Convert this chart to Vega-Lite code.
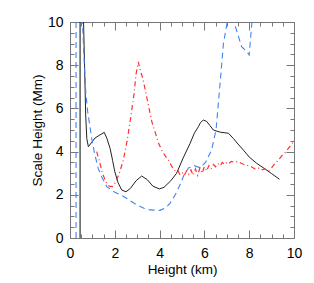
{
  "$schema": "https://vega.github.io/schema/vega-lite/v6.json",
  "autosize": "none",
  "width": 224,
  "height": 216,
  "padding": {"left": 70, "top": 22, "right": 20, "bottom": 45},
  "background": "white",
  "config": {
    "view": {"stroke": null},
    "font": "Liberation Sans",
    "axis": {
      "domainColor": "#777",
      "tickColor": "#777",
      "grid": false,
      "labelFont": "Liberation Sans",
      "labelFontSize": 14,
      "labelColor": "black",
      "titleFont": "Liberation Sans",
      "titleFontSize": 13.5,
      "titleFontWeight": "normal",
      "titleColor": "black"
    }
  },
  "datasets": {
    "black": [
      {"x": 0.6, "y": 10.2}, {"x": 0.65, "y": 8}, {"x": 0.7, "y": 5.7}, {"x": 0.75, "y": 4.6}, {"x": 0.82, "y": 4.23},
      {"x": 0.95, "y": 4.4}, {"x": 1.12, "y": 4.63}, {"x": 1.3, "y": 4.75}, {"x": 1.53, "y": 4.89}, {"x": 1.65, "y": 4.6},
      {"x": 1.79, "y": 4.15}, {"x": 1.9, "y": 3.6}, {"x": 2.0, "y": 3.07}, {"x": 2.15, "y": 2.55}, {"x": 2.31, "y": 2.22},
      {"x": 2.5, "y": 2.14}, {"x": 2.7, "y": 2.3}, {"x": 2.95, "y": 2.65}, {"x": 3.2, "y": 2.87}, {"x": 3.45, "y": 2.7},
      {"x": 3.7, "y": 2.4}, {"x": 3.99, "y": 2.27}, {"x": 4.2, "y": 2.35}, {"x": 4.5, "y": 2.65}, {"x": 4.76, "y": 3.0},
      {"x": 5.05, "y": 3.7}, {"x": 5.36, "y": 4.38}, {"x": 5.55, "y": 4.85}, {"x": 5.73, "y": 5.15}, {"x": 5.83, "y": 5.35},
      {"x": 5.95, "y": 5.46}, {"x": 6.1, "y": 5.4}, {"x": 6.25, "y": 5.2}, {"x": 6.4, "y": 5.0}, {"x": 6.7, "y": 4.9},
      {"x": 7.07, "y": 4.85}, {"x": 7.3, "y": 4.6}, {"x": 7.5, "y": 4.35}, {"x": 7.74, "y": 4.07}, {"x": 8.0, "y": 3.75},
      {"x": 8.33, "y": 3.46}, {"x": 8.7, "y": 3.2}, {"x": 9.0, "y": 2.98}, {"x": 9.35, "y": 2.72}
    ],
    "blue": [
      {"x": 0.55, "y": 10.2}, {"x": 0.62, "y": 8.5}, {"x": 0.7, "y": 6.8}, {"x": 0.79, "y": 5.85}, {"x": 0.97, "y": 4.61},
      {"x": 1.1, "y": 3.9}, {"x": 1.26, "y": 3.22}, {"x": 1.45, "y": 2.75}, {"x": 1.64, "y": 2.38}, {"x": 2.0, "y": 2.12},
      {"x": 2.38, "y": 1.93}, {"x": 2.7, "y": 1.72}, {"x": 2.98, "y": 1.53}, {"x": 3.3, "y": 1.38}, {"x": 3.57, "y": 1.3},
      {"x": 4.02, "y": 1.28}, {"x": 4.3, "y": 1.42}, {"x": 4.46, "y": 1.6}, {"x": 4.7, "y": 2.0}, {"x": 4.91, "y": 2.45},
      {"x": 5.1, "y": 2.95}, {"x": 5.3, "y": 3.25}, {"x": 5.55, "y": 3.35}, {"x": 5.8, "y": 3.25}, {"x": 6.05, "y": 3.5},
      {"x": 6.32, "y": 4.07}, {"x": 6.52, "y": 5.0}, {"x": 6.62, "y": 6.2}, {"x": 6.7, "y": 7.16}, {"x": 6.85, "y": 9.0},
      {"x": 7.02, "y": 10.0}, {"x": 7.17, "y": 10.4}, {"x": 7.32, "y": 10.0}, {"x": 7.5, "y": 9.4}, {"x": 7.66, "y": 8.86},
      {"x": 7.89, "y": 8.63}, {"x": 8.0, "y": 8.47}, {"x": 8.11, "y": 9.86}, {"x": 8.15, "y": 10.2}
    ],
    "red": [
      {"x": 1.19, "y": 4.0}, {"x": 1.3, "y": 3.6}, {"x": 1.45, "y": 3.0}, {"x": 1.6, "y": 2.6}, {"x": 1.75, "y": 2.4},
      {"x": 1.9, "y": 2.38}, {"x": 2.05, "y": 2.6}, {"x": 2.2, "y": 3.0}, {"x": 2.38, "y": 3.6}, {"x": 2.55, "y": 4.5},
      {"x": 2.7, "y": 5.5}, {"x": 2.85, "y": 6.6}, {"x": 2.95, "y": 7.6}, {"x": 3.05, "y": 8.15}, {"x": 3.15, "y": 7.7},
      {"x": 3.25, "y": 7.4}, {"x": 3.35, "y": 6.9}, {"x": 3.45, "y": 6.4}, {"x": 3.55, "y": 5.9}, {"x": 3.65, "y": 5.4},
      {"x": 3.8, "y": 4.9}, {"x": 3.95, "y": 4.4}, {"x": 4.1, "y": 4.05}, {"x": 4.25, "y": 3.8}, {"x": 4.4, "y": 3.6},
      {"x": 4.55, "y": 3.3}, {"x": 4.7, "y": 3.1}, {"x": 4.8, "y": 3.15}, {"x": 4.9, "y": 2.95}, {"x": 5.0, "y": 3.05},
      {"x": 5.1, "y": 2.9}, {"x": 5.2, "y": 3.1}, {"x": 5.3, "y": 2.95}, {"x": 5.4, "y": 3.15}, {"x": 5.5, "y": 2.9},
      {"x": 5.6, "y": 3.2}, {"x": 5.7, "y": 2.9}, {"x": 5.8, "y": 3.25}, {"x": 5.9, "y": 3.0}, {"x": 6.0, "y": 3.3},
      {"x": 6.1, "y": 3.1}, {"x": 6.2, "y": 3.35}, {"x": 6.3, "y": 3.2}, {"x": 6.4, "y": 3.4}, {"x": 6.5, "y": 3.3},
      {"x": 6.6, "y": 3.45}, {"x": 6.7, "y": 3.35}, {"x": 6.8, "y": 3.5}, {"x": 6.9, "y": 3.4}, {"x": 7.0, "y": 3.5},
      {"x": 7.1, "y": 3.45}, {"x": 7.2, "y": 3.55}, {"x": 7.35, "y": 3.5}, {"x": 7.5, "y": 3.55}, {"x": 7.65, "y": 3.45},
      {"x": 7.8, "y": 3.4}, {"x": 7.95, "y": 3.35}, {"x": 8.1, "y": 3.3}, {"x": 8.25, "y": 3.2}, {"x": 8.4, "y": 3.25},
      {"x": 8.55, "y": 3.15}, {"x": 8.7, "y": 3.2}, {"x": 8.85, "y": 3.1}, {"x": 9.0, "y": 3.25}, {"x": 9.15, "y": 3.45},
      {"x": 9.3, "y": 3.6}, {"x": 9.45, "y": 3.8}, {"x": 9.6, "y": 3.95}, {"x": 9.75, "y": 4.15}, {"x": 9.9, "y": 4.35},
      {"x": 10.0, "y": 4.5}
    ],
    "vlines": [
      {"x": 0.45, "series": "black"},
      {"x": 0.27, "series": "blue"}
    ]
  },
  "layer": [
    {
      "data": {"name": "black"},
      "mark": {"type": "line", "color": "#222", "strokeWidth": 1, "clip": true},
      "encoding": {
        "x": {
          "field": "x", "type": "quantitative",
          "scale": {"domain": [0, 10], "nice": false, "zero": false},
          "axis": {
            "orient": "bottom", "title": "Height (km)", "titlePadding": -2,
            "values": [0, 0.5, 1, 1.5, 2, 2.5, 3, 3.5, 4, 4.5, 5, 5.5, 6, 6.5, 7, 7.5, 8, 8.5, 9, 9.5, 10],
            "labelExpr": "datum.value % 2 == 0 ? format(datum.value, 'd') : ''",
            "tickSize": {"condition": {"test": "datum.value % 2 == 0", "value": -8}, "value": -4},
            "labelPadding": 16,
            "labelFlush": false, "labelOverlap": false
          }
        },
        "y": {
          "field": "y", "type": "quantitative",
          "scale": {"domain": [0, 10], "nice": false, "zero": false},
          "axis": {
            "orient": "left", "title": "Scale Height (Mm)", "titlePadding": 3,
            "values": [0, 0.5, 1, 1.5, 2, 2.5, 3, 3.5, 4, 4.5, 5, 5.5, 6, 6.5, 7, 7.5, 8, 8.5, 9, 9.5, 10],
            "labelExpr": "datum.value % 2 == 0 ? format(datum.value, 'd') : ''",
            "tickSize": {"condition": {"test": "datum.value % 2 == 0", "value": -8}, "value": -4},
            "labelPadding": 15,
            "labelFlush": false, "labelOverlap": false
          }
        }
      }
    },
    {
      "data": {"name": "blue"},
      "mark": {"type": "line", "color": "#3f84f2", "strokeWidth": 1.1, "strokeDash": [6, 4], "clip": true},
      "encoding": {
        "x": {
          "field": "x", "type": "quantitative",
          "axis": {
            "orient": "top", "title": null, "labels": false,
            "values": [0, 0.5, 1, 1.5, 2, 2.5, 3, 3.5, 4, 4.5, 5, 5.5, 6, 6.5, 7, 7.5, 8, 8.5, 9, 9.5, 10],
            "tickSize": {"condition": {"test": "datum.value % 2 == 0", "value": -8}, "value": -4}
          }
        },
        "y": {
          "field": "y", "type": "quantitative",
          "axis": {
            "orient": "right", "title": null, "labels": false,
            "values": [0, 0.5, 1, 1.5, 2, 2.5, 3, 3.5, 4, 4.5, 5, 5.5, 6, 6.5, 7, 7.5, 8, 8.5, 9, 9.5, 10],
            "tickSize": {"condition": {"test": "datum.value % 2 == 0", "value": -8}, "value": -4}
          }
        }
      }
    },
    {
      "data": {"name": "red"},
      "mark": {"type": "line", "color": "#ff3030", "strokeWidth": 1.2, "strokeDash": [5, 3, 1, 3], "clip": true},
      "encoding": {
        "x": {"field": "x", "type": "quantitative", "axis": null},
        "y": {"field": "y", "type": "quantitative", "axis": null}
      }
    },
    {
      "data": {"name": "vlines"},
      "mark": {"type": "rule", "strokeWidth": 1.1},
      "encoding": {
        "x": {"field": "x", "type": "quantitative", "axis": null},
        "color": {"field": "series", "type": "nominal", "scale": {"domain": ["black", "blue"], "range": ["#222", "#3f84f2"]}, "legend": null},
        "strokeDash": {"field": "series", "type": "nominal", "scale": {"domain": ["black", "blue"], "range": [[1, 0], [6, 4]]}, "legend": null}
      }
    }
  ],
  "resolve": {"axis": {"x": "independent", "y": "independent"}}
}
